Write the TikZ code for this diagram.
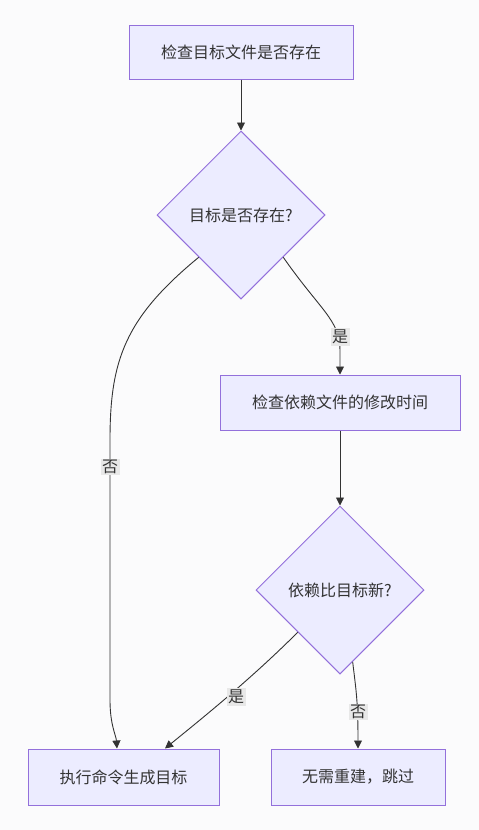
\documentclass[tikz,border=0pt]{standalone}
\usepackage{fontspec}
\setmainfont{Noto Sans CJK SC}
\usetikzlibrary{shapes.geometric,arrows.meta}
\definecolor{nodefill}{HTML}{ECECFF}
\definecolor{nodeline}{HTML}{9370DB}
\definecolor{ink}{HTML}{333333}
\definecolor{lblbg}{HTML}{E8E8E8}
\definecolor{bgc}{HTML}{FBFBFC}
\tikzset{
  box/.style={draw=nodeline, fill=nodefill, line width=1pt, text=ink, font=\fontsize{16}{19}\selectfont, inner sep=0pt},
  decision/.style={diamond, aspect=1, draw=nodeline, fill=nodefill, line width=1pt, text=ink, font=\fontsize{16}{19}\selectfont, inner sep=0pt, minimum width=168pt, minimum height=168pt},
  conn/.style={draw=ink, line width=0.9pt, -{Triangle[length=8pt,width=8pt]}},
  lbl/.style={fill=lblbg, text=ink, font=\fontsize{16}{19}\selectfont, inner sep=1.5pt}
}
\begin{document}
\begin{tikzpicture}[x=1pt,y=-1pt]
\useasboundingbox[fill=bgc] (0,0) rectangle (479,830);
\node[box, minimum width=224pt, minimum height=54pt] (A) at (241,52) {检查目标文件是否存在};
\node[decision] (B) at (241,215) {目标是否存在?};
\node[box, minimum width=240pt, minimum height=55pt] (C) at (340,402.5) {检查依赖文件的修改时间};
\node[decision] (D) at (340,590) {依赖比目标新?};
\node[box, minimum width=191pt, minimum height=56pt] (E) at (123.5,777) {执行命令生成目标};
\node[box, minimum width=174pt, minimum height=56pt] (F) at (358,777) {无需重建，跳过};

\draw[conn] (A) -- (B);
\draw[conn] (B.-45) .. controls (320,310) and (340,320) .. (340,350) -- (C.north);
\node[lbl] (l1) at (340,337) {是};
\draw[conn] (B.-135) .. controls (125,318) and (110,360) .. (110,440) -- (110,700) .. controls (110,725) and (116,735) .. ([xshift=-6.5pt]E.north);
\node[lbl] (l2) at (110,467) {否};
\draw[conn] (C) -- (D);
\draw[conn] (D.-135) .. controls (250,680) and (200,720) .. ([xshift=41.5pt]E.north);
\node[lbl] (l3) at (236,697) {是};
\draw[conn] (D.-80) .. controls (356,690) and (358,700) .. (F.north);
\node[lbl] (l4) at (358,712) {否};
\end{tikzpicture}
\end{document}
